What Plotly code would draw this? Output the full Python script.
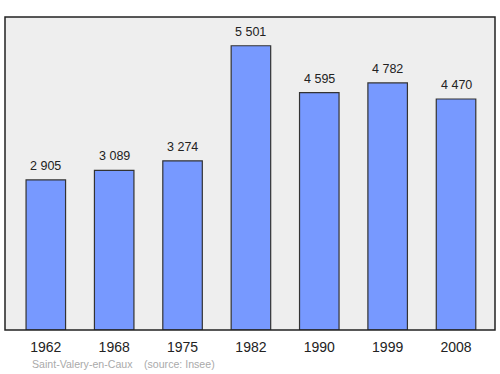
import plotly.graph_objects as go

years = ["1962", "1968", "1975", "1982", "1990", "1999", "2008"]
population = [2905, 3089, 3274, 5501, 4595, 4782, 4470]
labels = ["2 905", "3 089", "3 274", "5 501", "4 595", "4 782", "4 470"]
positions = list(range(len(years)))

W, H = 500, 374
L, R, T, B = 5, 5, 17, 44
PW, PH = W - L - R, H - T - B

fig = go.Figure()
fig.add_trace(go.Bar(
    x=positions, y=population, width=0.578,
    marker=dict(color="#7799ff", line=dict(color="#333333", width=1.2)),
    hoverinfo="skip",
))

for xi, yi, lab in zip(positions, population, labels):
    fig.add_annotation(x=xi, y=yi, text=lab, showarrow=False, yanchor="middle",
                       yshift=14, font=dict(family="Liberation Sans, Arial", size=12.5, color="#222222"))

footer_font = dict(family="Liberation Sans, Arial", size=10.6, color="#aaaaaa")
fig.add_annotation(xref="paper", yref="paper", x=(30 - L) / PW, y=(330 - 364) / PH,
                   xanchor="left", yanchor="middle", showarrow=False,
                   text="Saint-Valery-en-Caux", font=footer_font)
fig.add_annotation(xref="paper", yref="paper", x=(142 - L) / PW, y=(330 - 364) / PH,
                   xanchor="left", yanchor="middle", showarrow=False,
                   text="(source: Insee)", font=footer_font)

fig.add_shape(type="rect", xref="paper", yref="paper", x0=0, y0=0, x1=1, y1=1,
              line=dict(color="#222222", width=1.5), layer="above")

fig.update_layout(
    width=W, height=H,
    margin=dict(l=L, r=R, t=T, b=B),
    paper_bgcolor="white", plot_bgcolor="#eeeeee",
    showlegend=False,
    xaxis=dict(range=[-0.597, 6.57], tickvals=positions, ticktext=years,
               tickfont=dict(family="Liberation Sans, Arial", size=14, color="#222222"),
               showgrid=False, zeroline=False, showline=False, ticks="", ticklabelstandoff=7,
               fixedrange=True),
    yaxis=dict(range=[0, 6057], showticklabels=False, showgrid=False, zeroline=False,
               showline=False, ticks="", fixedrange=True),
)

fig.write_html("out.html", config={"displayModeBar": False})
